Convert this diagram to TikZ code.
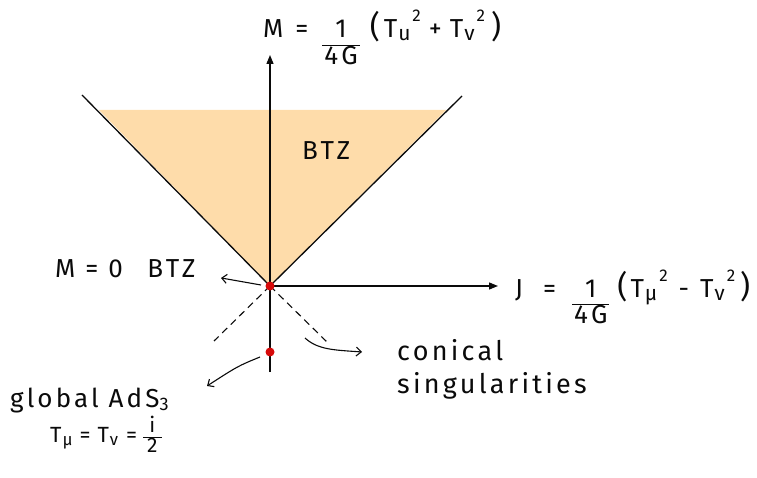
\documentclass[tikz,border=0pt]{standalone}
\usepackage{fontspec}
\usepackage{tikz}
\usetikzlibrary{arrows.meta, positioning, calc}
\newfontfamily\hand{Fira Sans}[LetterSpace=12]
\definecolor{mydark}{RGB}{10,10,10}
\definecolor{myred}{RGB}{215,10,10}
\definecolor{btzfill}{RGB}{254,220,170}
% fraction whose numerator sits on the baseline
\newcommand{\lowfrac}[2]{{\renewcommand{\arraystretch}{0.8}\setlength{\arrayrulewidth}{1.2pt}%
  \fontsize{26}{28}\selectfont\begin{tabular}[t]{@{\hspace{2pt}}c@{\hspace{2pt}}}#1\\\hline #2\end{tabular}}}
% small centred fraction
\newcommand{\midfrac}[2]{{\renewcommand{\arraystretch}{0.75}\setlength{\arrayrulewidth}{1.2pt}%
  \fontsize{21}{23}\selectfont\begin{tabular}{@{\hspace{4pt}}c@{\hspace{4pt}}}#1\\\hline #2\end{tabular}}}
% T with a subscript and a squared mark
\newcommand{\Tq}[2]{T\kern1pt\raisebox{-3pt}{\fontsize{21}{22}\selectfont #1}\kern2pt\raisebox{16pt}{\fontsize{17}{18}\selectfont #2}}
\newcommand{\Ts}[1]{T\kern1pt\raisebox{-3pt}{\fontsize{17}{18}\selectfont #1}}
\newcommand{\bigpar}[1]{{\fontsize{31}{34}\selectfont #1}}
\tikzset{
  axis/.style={-{Triangle[length=9pt,width=7pt]}, line width=1.3pt, color=mydark},
  cone/.style={line width=1.3pt, color=mydark},
  dashline/.style={line width=1.1pt, color=mydark, dash pattern=on 7pt off 5pt},
  note/.style={-{Straight Barb[length=5pt,width=9pt]}, line width=1.1pt, color=mydark},
  dot/.style={circle, fill=myred, minimum size=9pt, inner sep=0pt},
  lbl/.style={font=\hand\fontsize{26}{30}\selectfont, color=mydark, inner sep=0pt}
}
\begin{document}
\begin{tikzpicture}[x=1pt, y=-1pt]
  \useasboundingbox (0,0) rectangle (757,478);

  % Cone region (BTZ)
  \coordinate (O) at (270,286);
  \coordinate (cl) at (82,95);
  \coordinate (cr) at (462,96);
  \fill[btzfill] (99,110) -- (446,110) -- (O) -- cycle;
  \draw[cone] (cl) -- (O) -- (cr);

  % Axes
  \coordinate (ybot) at (270,372);
  \coordinate (ytop) at (270,55);
  \coordinate (xtip) at (498,286);
  \draw[axis] (ybot) -- (ytop);
  \draw[axis] (O) -- (xtip);

  % Dashed continuation below the origin
  \coordinate (dl) at (214,341);
  \coordinate (dr) at (327,342);
  \draw[dashline] (O) -- (dl);
  \draw[dashline] (O) -- (dr);

  % Special points
  \node[dot] (orig) at (O) {};
  \node[dot] (ads) at (270,352) {};

  % Axis labels
  \node[lbl, anchor=base west] (mlbl) at (263,38)
    {M\hspace{12pt}=\hspace{14pt}\lowfrac{1}{4G}\hspace{10pt}\bigpar{(}\hspace{4pt}\Tq{u}{2}\hspace{8pt}+\hspace{8pt}\Tq{v}{2}\hspace{6pt}\bigpar{)}};
  \node[lbl, anchor=base west] (jlbl) at (515,297)
    {J\hspace{20pt}=\hspace{16pt}\lowfrac{1}{4G}\hspace{8pt}\bigpar{(}\hspace{3pt}\Tq{μ}{2}\hspace{11pt}-\hspace{11pt}\Tq{ν}{2}\hspace{5pt}\bigpar{)}};

  % Region labels
  \node[lbl, anchor=base west] (btz) at (302,160) {BTZ};
  \node[lbl, anchor=base west] (m0) at (55,277) {M = 0\;\; BTZ};
  \node[lbl, anchor=base west, font=\hand\fontsize{27}{30}\selectfont] (con) at (397,360) {conical};
  \node[lbl, anchor=base west, font=\hand\fontsize{27}{30}\selectfont] (sing) at (397,393) {singularities};
  \node[lbl, anchor=base west] (glob) at (10,407) {global AdS\textsubscript{3}};
  \node[lbl, anchor=base west, font=\hand\fontsize{22}{24}\selectfont] (tval) at (50,442)
    {\Ts{μ}\hspace{7pt}=\hspace{7pt}\Ts{ν}\hspace{8pt}=\hspace{6pt}\midfrac{i}{2}};

  % Pointers
  \coordinate (m0end) at (221,278);
  \coordinate (conbeg) at (305,338);
  \coordinate (conend) at (362,352);
  \coordinate (adsbeg) at (260,357);
  \coordinate (adsend) at (207,386);
  \draw[note] ($(orig)+(-9,-1)$) .. controls (242,281) .. (m0end);
  \draw[note] (conbeg) .. controls (318,350) and (335,350) .. (conend);
  \draw[note] (adsbeg) .. controls (238,366) .. (adsend);
\end{tikzpicture}
\end{document}
